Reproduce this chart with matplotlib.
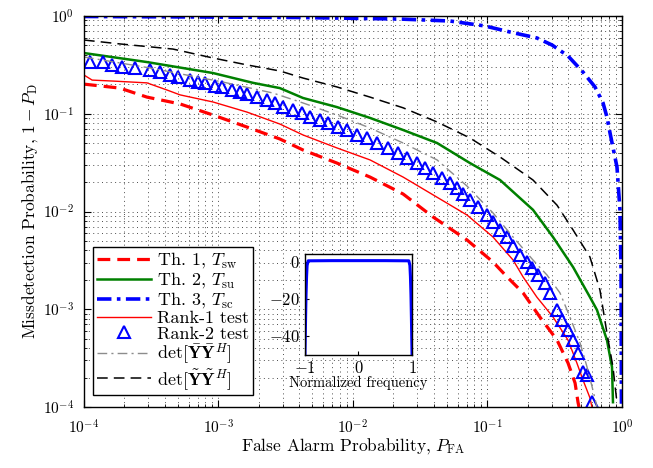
import matplotlib
matplotlib.use("Agg")
import matplotlib.pyplot as plt
import numpy as np

plt.rcParams['font.family'] = 'serif'
plt.rcParams['font.serif'] = ['cmr10']
plt.rcParams['mathtext.fontset'] = 'cm'
plt.rcParams['axes.formatter.use_mathtext'] = True
plt.rcParams['axes.unicode_minus'] = True

# ---------------- data ----------------
th1_x = [1e-4, 1.85e-4, 2.94e-4, 5.18e-4, 9.10e-4, 1.63e-3, 2.86e-3, 4.25e-3, 7.60e-3, 1.34e-2,
         2.36e-2, 3.94e-2, 7.05e-2, 0.110, 0.140, 0.184, 0.245, 0.329, 0.397, 0.448, 0.471, 0.479]
th1_y = [0.201, 0.183, 0.148, 0.126, 0.0971, 0.0731, 0.0552, 0.0426, 0.0313, 0.0225,
         0.0151, 0.00879, 0.00511, 0.00304, 0.00214, 0.00147, 0.000834, 0.000484, 0.000282,
         0.000176, 0.000112, 0.0001]

th2_x = [1e-4, 2.94e-4, 9.10e-4, 1.81e-3, 2.86e-3, 4.25e-3, 7.60e-3, 1.34e-2, 2.36e-2, 4.22e-2,
         7.41e-2, 0.124, 0.218, 0.307, 0.433, 0.578, 0.652, 0.773, 0.843, 0.857]
th2_y = [0.418, 0.338, 0.261, 0.207, 0.183, 0.145, 0.117, 0.0906, 0.0682, 0.0502,
         0.0313, 0.0210, 0.0104, 0.00548, 0.00270, 0.00133, 0.000982, 0.000484, 0.000256, 0.000112]

th3_x = [1e-4, 7.28e-4, 4.04e-3, 2.23e-2, 5.26e-2, 0.0957, 0.147, 0.233, 0.302, 0.397, 0.513,
         0.630, 0.723, 0.773, 0.815, 0.918, 0.966, 0.984, 0.991]
th3_y = [0.989, 0.977, 0.966, 0.931, 0.889, 0.791, 0.686, 0.596, 0.505, 0.390, 0.267,
         0.188, 0.129, 0.0927, 0.0635, 0.0285, 0.0104, 0.00251, 0.0001]

rank1_x = [1e-4, 1.15e-4, 1.64e-4, 2.94e-4, 4.14e-4, 5.18e-4, 9.10e-4, 1.63e-3, 2.86e-3, 4.25e-3,
           7.60e-3, 1.34e-2, 2.36e-2, 3.94e-2, 7.05e-2, 0.110, 0.155, 0.184, 0.233, 0.307,
           0.397, 0.462, 0.513, 0.578, 0.598]
rank1_y = [0.249, 0.221, 0.216, 0.207, 0.175, 0.156, 0.132, 0.104, 0.0785, 0.0607,
           0.0447, 0.0337, 0.0225, 0.0148, 0.00920, 0.00548, 0.00319, 0.00214, 0.00133, 0.000834,
           0.000484, 0.000282, 0.000189, 0.000124, 0.0001]

rank2_x = [1.11e-4, 1.38e-4, 1.61e-4, 1.92e-4, 2.39e-4, 3.10e-4, 3.67e-4, 4.36e-4, 5.00e-4, 6.14e-4,
           7.05e-4, 7.94e-4, 9.42e-4, 1.06e-3, 1.26e-3, 1.45e-3, 1.63e-3, 1.93e-3, 2.30e-3, 2.63e-3,
           3.02e-3, 3.58e-3, 4.18e-3, 4.79e-3, 5.69e-3, 6.52e-3, 7.73e-3, 9.02e-3, 1.07e-2, 1.27e-2,
           1.51e-2, 1.82e-2, 2.16e-2, 2.52e-2, 2.99e-2, 3.43e-2, 3.94e-2, 4.59e-2, 5.26e-2, 5.93e-2,
           6.58e-2, 7.41e-2, 8.49e-2, 9.91e-2, 0.110, 0.124, 0.140, 0.155, 0.175, 0.197,
           0.214, 0.237, 0.268, 0.292, 0.329, 0.358, 0.397, 0.433, 0.471, 0.513,
           0.550, 0.598]
rank2_y = [0.338, 0.338, 0.315, 0.301, 0.294, 0.281, 0.267, 0.249, 0.238, 0.221,
           0.211, 0.207, 0.192, 0.188, 0.175, 0.167, 0.159, 0.148, 0.138, 0.129,
           0.117, 0.109, 0.102, 0.0927, 0.0863, 0.0804, 0.0731, 0.0682, 0.0607, 0.0565,
           0.0502, 0.0447, 0.0396, 0.0352, 0.0313, 0.0279, 0.0248, 0.0220, 0.0196, 0.0174,
           0.0151, 0.0131, 0.0111, 0.00920, 0.00782, 0.00647, 0.00548, 0.00444, 0.00359, 0.00304,
           0.00264, 0.00224, 0.00186, 0.00147, 0.000982, 0.000776, 0.000614, 0.000484, 0.000356, 0.000228,
           0.000212, 0.000112]

detbar_x = [1e-4, 3.10e-4, 1.08e-3, 2.54e-3, 4.25e-3, 7.60e-3, 1.34e-2, 2.36e-2, 4.22e-2, 7.05e-2,
            0.110, 0.155, 0.218, 0.277, 0.346, 0.410, 0.488, 0.550, 0.608, 0.652]
detbar_y = [0.381, 0.294, 0.211, 0.163, 0.129, 0.0971, 0.0715, 0.0502, 0.0337, 0.0182,
            0.00966, 0.00548, 0.00319, 0.00224, 0.00147, 0.000834, 0.000452, 0.000256, 0.000149, 0.0001]

dettil_x = [1e-4, 1.85e-4, 4.59e-4, 9.10e-4, 1.63e-3, 2.86e-3, 4.25e-3, 7.60e-3, 1.34e-2, 2.36e-2,
            4.22e-2, 7.41e-2, 0.124, 0.218, 0.329, 0.433, 0.578, 0.686, 0.773, 0.857, 0.918]
dettil_y = [0.568, 0.518, 0.459, 0.372, 0.316, 0.274, 0.232, 0.188, 0.148, 0.115,
            0.0824, 0.0565, 0.0361, 0.0210, 0.0116, 0.00647, 0.00342, 0.00157, 0.000571, 0.000256, 0.000110]

inset_f = [-1.0, -0.995, -0.988, -0.98, -0.97, -0.96, -0.94, -0.5, 0.0, 0.5, 0.94, 0.96, 0.97, 0.98, 0.988, 0.995, 1.0]
inset_db = [-50, -42, -30, -18, -8, -2, 0.5, 0.6, 0.6, 0.6, 0.5, -2, -8, -18, -30, -42, -50]

labels = [r'Th. 1, $T_{\mathrm{sw}}$', r'Th. 2, $T_{\mathrm{su}}$', r'Th. 3, $T_{\mathrm{sc}}$',
          'Rank-1 test', 'Rank-2 test',
          r'$\det[\bar{\mathbf{Y}}\bar{\mathbf{Y}}^{H}]$', r'$\det[\tilde{\mathbf{Y}}\tilde{\mathbf{Y}}^{H}]$']

# ---------------- figure ----------------
fig = plt.figure(figsize=(6.53, 4.68), dpi=100)
ax = fig.add_axes([0.1286, 0.1303, 0.8239, 0.8355])

ax.plot(th1_x, th1_y, color='red', lw=2.3, ls=(0, (4, 2.2)), label=labels[0])
ax.plot(th2_x, th2_y, color='#008000', lw=1.8, ls='-', label=labels[1])
ax.plot(th3_x, th3_y, color='blue', lw=2.6, ls=(0, (4, 1.5, 1, 1.5)), label=labels[2])
ax.plot(rank1_x, rank1_y, color='red', lw=1.0, ls='-', label=labels[3])
ax.plot(rank2_x, rank2_y, ls='none', marker='^', ms=8, mfc='none', mec='blue', mew=1.5, label=labels[4])
ax.plot(detbar_x, detbar_y, color='0.55', lw=1.0, ls=(0, (7, 3, 1.5, 3)), label=labels[5])
ax.plot(dettil_x, dettil_y, color='black', lw=1.1, ls=(0, (7, 4)), label=labels[6])

ax.set_xscale('log')
ax.set_yscale('log')
ax.set_xlim(1e-4, 1)
ax.set_ylim(1e-4, 1)
ax.grid(True, which='both', ls=(0, (1, 3.5)), color='0.3', lw=0.7)
ax.tick_params(which='both', direction='in', top=True, right=True, labelsize=11)
ax.tick_params(axis='x', which='major', pad=8)
ax.tick_params(axis='y', which='major', pad=7)
ax.tick_params(which='major', length=5)
ax.tick_params(which='minor', length=2.5)
ax.set_xlabel(r'False Alarm Probability, $P_{\mathrm{FA}}$', fontsize=12.5, labelpad=0)
ax.set_ylabel(r'Missdetection Probability, $1-P_{\mathrm{D}}$', fontsize=12.5, labelpad=2)
for s in ax.spines.values():
    s.set_linewidth(1.0)

leg = ax.legend(loc='lower left', bbox_to_anchor=(0.017, 0.03), fontsize=13, frameon=True,
                fancybox=False, edgecolor='black', framealpha=1, handlelength=3.0,
                borderpad=0.2, labelspacing=0.0, handletextpad=0.35, borderaxespad=0)
leg.get_frame().set_linewidth(1.0)

# inset
iax = fig.add_axes([0.467, 0.2415, 0.164, 0.215])
iax.plot(inset_f, inset_db, color='blue', lw=2.2)
iax.set_xlim(-1, 1)
iax.set_ylim(-50.5, 4)
iax.set_xticks([-1, 0, 1])
iax.set_yticks([0, -20, -40])
iax.tick_params(direction='in', labelsize=12, length=3)
iax.set_xlabel('Normalized frequency', fontsize=10.5, labelpad=0)
for s in iax.spines.values():
    s.set_linewidth(1.0)

fig.savefig('out.png', dpi=100)
